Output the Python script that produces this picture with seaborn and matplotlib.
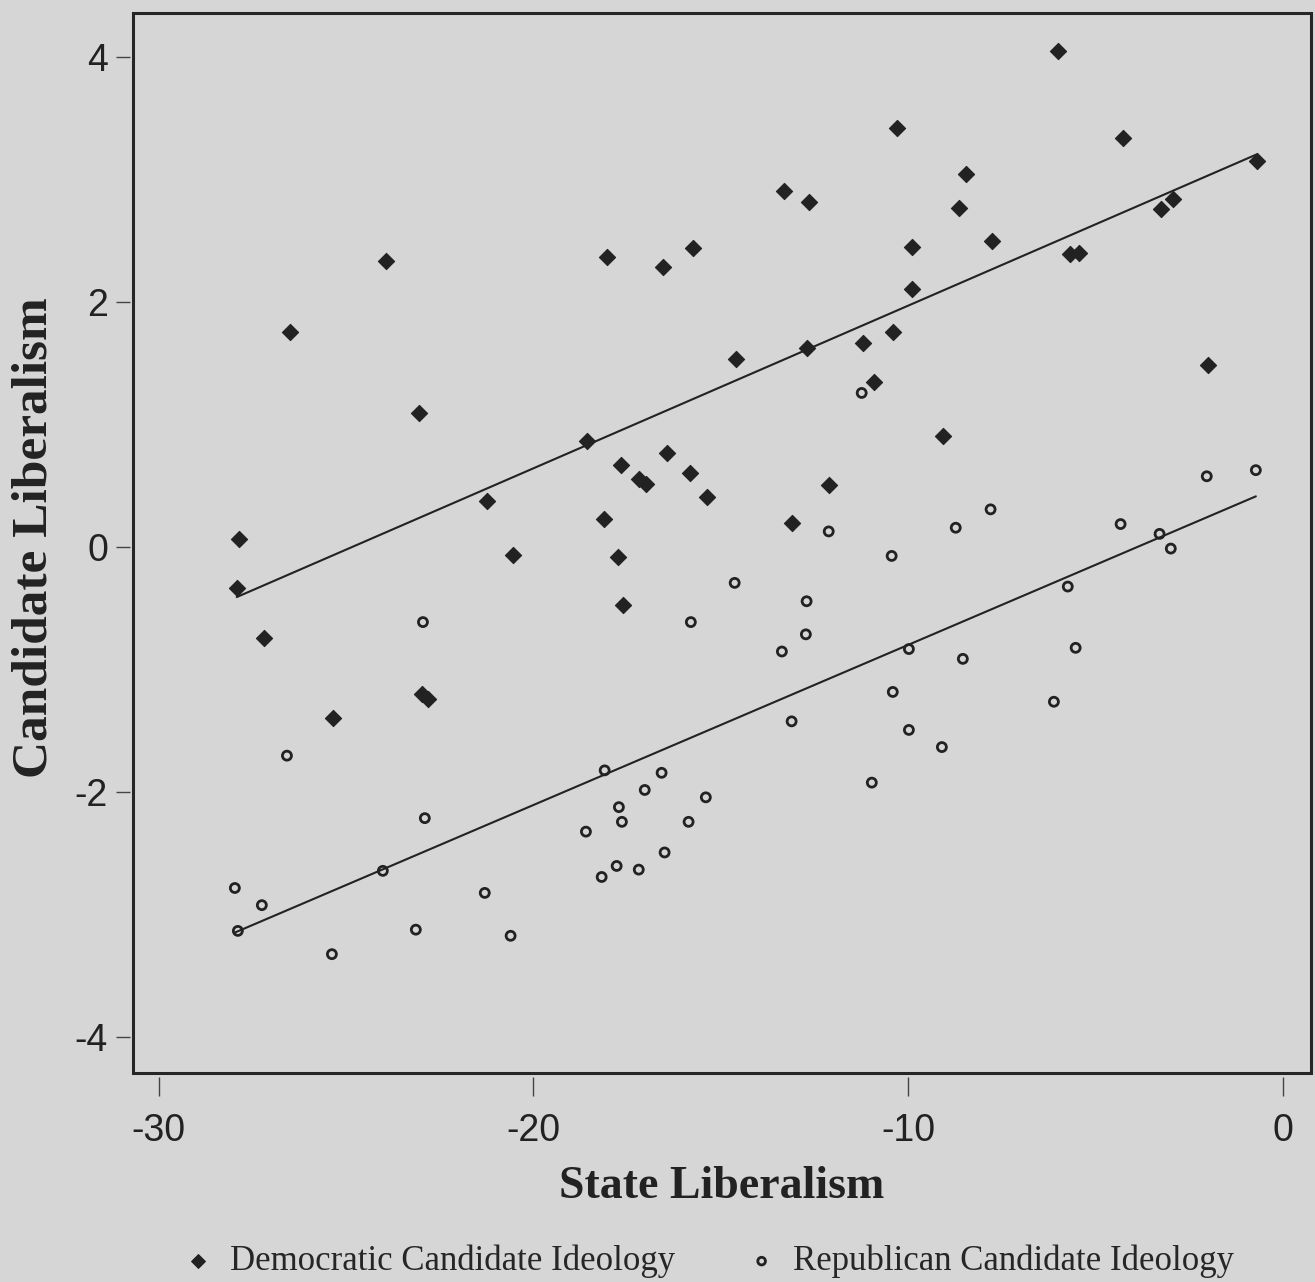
import matplotlib
matplotlib.use("Agg")
import matplotlib.pyplot as plt
from matplotlib.patches import Rectangle
import pandas as pd
import seaborn as sns

# State liberalism (x) vs candidate liberalism (y)
dem_x = [-6.01, -10.30, -4.27, -0.70, -8.46, -13.32, -12.65, -8.65, -3.26, -2.94,
         -9.90, -7.77, -5.69, -5.45, -23.94, -18.04, -16.55, -15.75, -26.50, -9.90,
         -10.41, -11.21, -12.71, -14.60, -10.92, -2.00, -23.06, -18.58, -9.08, -21.25,
         -17.67, -17.19, -17.00, -16.44, -15.83, -15.37, -12.12, -18.12, -13.11, -20.55,
         -17.75, -17.62, -27.86, -27.92, -27.20, -22.98, -22.82, -25.36]
dem_y = [4.05, 3.42, 3.34, 3.15, 3.05, 2.91, 2.82, 2.77, 2.76, 2.84,
         2.45, 2.50, 2.39, 2.40, 2.34, 2.37, 2.29, 2.44, 1.76, 2.11,
         1.76, 1.67, 1.63, 1.54, 1.35, 1.49, 1.10, 0.87, 0.91, 0.38,
         0.67, 0.56, 0.52, 0.77, 0.61, 0.41, 0.51, 0.23, 0.20, -0.06,
         -0.08, -0.47, 0.07, -0.33, -0.74, -1.20, -1.24, -1.39]

rep_x = [-22.95, -26.58, -22.90, -24.02, -27.97, -27.25, -27.89, -25.38, -23.14, -21.30,
         -20.61, -7.80, -8.73, -12.12, -10.44, -14.63, -12.71, -15.80, -12.73, -13.37,
         -9.98, -8.54, -10.41, -13.11, -9.98, -9.10, -10.97, -18.10, -16.58, -17.03,
         -15.40, -17.72, -17.64, -18.60, -15.86, -16.50, -17.78, -17.19, -18.18, -0.72,
         -2.03, -4.33, -3.29, -2.99, -5.74, -5.53, -6.11, -11.24]
rep_y = [-0.61, -1.70, -2.21, -2.64, -2.78, -2.92, -3.13, -3.32, -3.12, -2.82,
         -3.17, 0.31, 0.16, 0.13, -0.07, -0.29, -0.44, -0.61, -0.71, -0.85,
         -0.83, -0.91, -1.18, -1.42, -1.49, -1.63, -1.92, -1.82, -1.84, -1.98,
         -2.04, -2.12, -2.24, -2.32, -2.24, -2.49, -2.60, -2.63, -2.69, 0.63,
         0.58, 0.19, 0.11, -0.01, -0.32, -0.82, -1.26, 1.26]

x_ticks = [-30, -20, -10, 0]
y_ticks = [-4, -2, 0, 2, 4]

df_dem = pd.DataFrame({"state": dem_x, "cand": dem_y})
df_rep = pd.DataFrame({"state": rep_x, "cand": rep_y})

bg = "#d6d6d6"
ink = "#222222"

sns.set_style("white")
plt.rcParams["axes.unicode_minus"] = False

fig = plt.figure(figsize=(13.15, 12.82), dpi=100, facecolor=bg)
ax = fig.add_axes([0.1011, 0.1630, 0.8958, 0.8268])
ax.set_facecolor(bg)

sns.scatterplot(data=df_dem, x="state", y="cand", marker="D", s=68,
                color=ink, edgecolor=ink, linewidth=0.8, ax=ax,
                label="Democratic Candidate Ideology")
sns.scatterplot(data=df_rep, x="state", y="cand", marker="o", s=42,
                facecolor="none", edgecolor=ink, linewidth=2.0, ax=ax,
                label="Republican Candidate Ideology")

sns.regplot(data=df_dem, x="state", y="cand", scatter=False, ci=None, ax=ax,
            line_kws={"color": ink, "lw": 1.5})
sns.regplot(data=df_rep, x="state", y="cand", scatter=False, ci=None, ax=ax,
            line_kws={"color": ink, "lw": 1.5})

ax.set_xlim(-30.69, 0.75)
ax.set_ylim(-4.29, 4.36)
ax.set_xticks(x_ticks)
ax.set_yticks(y_ticks)

# box frame drawn separately so the x ticks can sit slightly below it
for s in ax.spines.values():
    s.set_visible(False)
ax.spines["bottom"].set_position(("outward", 3))
ax.spines["left"].set_position(("outward", 2))
ax.add_patch(Rectangle((0, 0), 1, 1, transform=ax.transAxes, fill=False,
                       lw=2.2, edgecolor="#262626", clip_on=False, zorder=5))

ax.tick_params(axis="x", bottom=True, direction="out", length=14, width=1.0,
               color="#444444", pad=12, labelsize=27, labelcolor=ink)
ax.tick_params(axis="y", left=True, direction="out", length=10, width=1.0,
               color="#444444", pad=6, labelsize=27, labelcolor=ink)
for lab in ax.get_xticklabels() + ax.get_yticklabels():
    lab.set_family("Liberation Sans")

ax.set_xlabel("State Liberalism", fontsize=33, fontweight="bold",
              family="Liberation Serif", color=ink)
ax.set_ylabel("Candidate Liberalism", fontsize=37, fontweight="bold",
              family="Liberation Serif", color=ink)
ax.xaxis.set_label_coords(0.5, -0.088)
ax.yaxis.set_label_coords(-0.064, 0.505)

handles, labels = ax.get_legend_handles_labels()
ax.legend_.remove()
fig.legend(handles, labels, loc="center", bbox_to_anchor=(0.538, 0.016), ncol=2,
           frameon=False, markerscale=0.85, handletextpad=0.4, columnspacing=2.0,
           handlelength=1.0, prop={"family": "Liberation Serif", "size": 25})

fig.savefig("out.png", dpi=100, facecolor=bg)
